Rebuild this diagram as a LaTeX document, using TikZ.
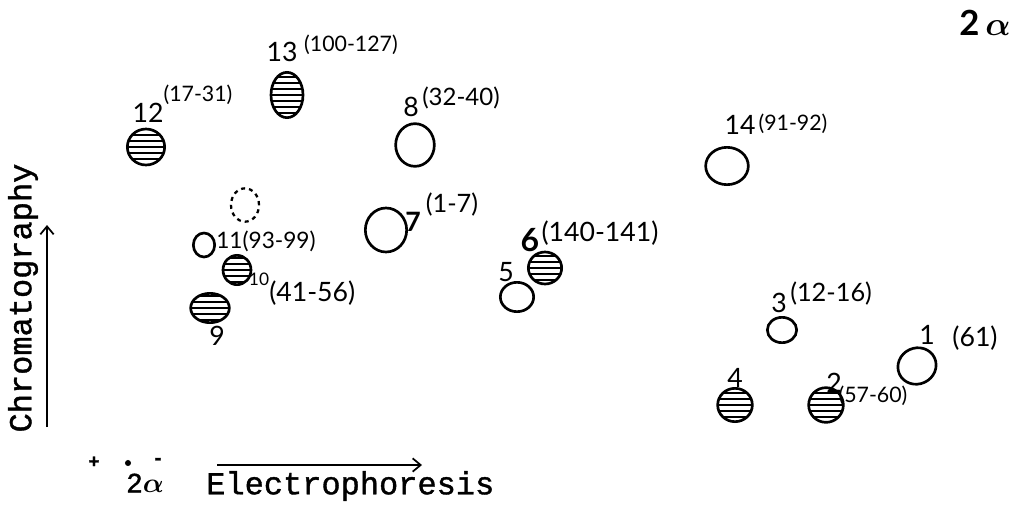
\documentclass[tikz,border=0pt]{standalone}
\usepackage{amsmath,amssymb}
\usepackage{bm}
\usepackage{fontspec}
\newfontfamily\tw{Liberation Mono}[FakeBold=1.2]
\newfontfamily\hand{Lato}
\usetikzlibrary{shapes.geometric,arrows.meta}
\begin{document}
\begin{tikzpicture}[x=0.75pt,y=-0.75pt,
  spot/.style={ellipse,draw,line width=2pt,inner sep=0pt},
  hatchspot/.style={spot,path picture={\foreach \k in {-4,...,4}{\draw[line width=1.6pt] ([yshift=\k*4.4pt]path picture bounding box.west) -- ([yshift=\k*4.4pt]path picture bounding box.east);}}},
  num/.style={font=\hand\fontsize{20}{20}\selectfont,inner sep=0pt},
  rng/.style={font=\hand\fontsize{16}{16}\selectfont,inner sep=0pt},
  axis/.style={font=\tw\fontsize{24}{24}\selectfont,inner sep=0pt},
  axarrow/.style={line width=1.3pt,-{Straight Barb[length=6pt,width=10pt]}}]
\useasboundingbox (0,0) rectangle (1021,508);
% spots
\node[hatchspot,minimum width=28pt,minimum height=27pt] (s12) at (146,147) {};
\node[hatchspot,minimum width=24pt,minimum height=34pt] (s13) at (287,95) {};
\node[spot,minimum width=29pt,minimum height=32pt] (s8) at (415,145) {};
\node[spot,dashed,line width=1.7pt,minimum width=21pt,minimum height=25pt] (sd) at (245,205) {};
\node[spot,minimum width=16pt,minimum height=18pt] (s11) at (204,245) {};
\node[spot,minimum width=31pt,minimum height=33pt] (s7) at (386,230) {};
\node[hatchspot,minimum width=21pt,minimum height=22pt] (s10) at (237,270) {};
\node[hatchspot,minimum width=29pt,minimum height=22pt] (s9) at (210,308) {};
\node[hatchspot,minimum width=25pt,minimum height=24pt] (s6) at (545,268) {};
\node[spot,minimum width=25pt,minimum height=22pt] (s5) at (517,297) {};
\node[spot,minimum width=32pt,minimum height=28pt] (s14) at (727,166) {};
\node[spot,minimum width=22pt,minimum height=19pt] (s3) at (782,330) {};
\node[spot,minimum width=29pt,minimum height=27pt,rotate=25] (s1) at (917,366) {};
\node[hatchspot,minimum width=26pt,minimum height=25pt] (s4) at (735,405) {};
\node[hatchspot,minimum width=26pt,minimum height=26pt] (s2) at (826,405) {};
% labels
\node[num] (l12) at (148,113) {12};
\node[rng] (r12) at (198,95) {(17-31)};
\node[num] (l13) at (282,52) {13};
\node[rng] (r13) at (351,45) {(100-127)};
\node[num] (l8) at (411,107) {8};
\node[rng,font=\hand\fontsize{18}{18}\selectfont,anchor=west] (r8) at (422,98) {(32-40)};
\node[rng,font=\hand\fontsize{17}{17}\selectfont,anchor=west] (l11) at (216,241) {11(93-99)};
\node[num,font=\hand\bfseries\fontsize{20}{20}\selectfont] (l7) at (413,222) {7};
\node[rng,font=\hand\fontsize{19}{19}\selectfont] (r7) at (452,205) {(1-7)};
\node[rng,font=\hand\fontsize{13}{13}\selectfont] (l10) at (259,279) {10};
\node[num,anchor=west] (r10) at (269,293) {(41-56)};
\node[num] (l9) at (217,336) {9};
\node[num,font=\hand\bfseries\fontsize{24}{24}\selectfont] (l6) at (530,240) {6};
\node[num] (r6) at (600,233) {(140-141)};
\node[num] (l5) at (506,272) {5};
\node[num] (l14) at (740,125) {14};
\node[rng] (r14) at (793,124) {(91-92)};
\node[num] (l3) at (779,303) {3};
\node[rng,font=\hand\fontsize{19}{19}\selectfont,anchor=west] (r3) at (790,294) {(12-16)};
\node[num] (l1) at (927,335) {1};
\node[num] (r1) at (975,338) {(61)};
\node[num] (l4) at (735,378) {4};
\node[num] (l2) at (834,383) {2};
\node[rng] (r2) at (873,396) {(57-60)};
\node[num,font=\hand\bfseries\fontsize{26}{26}\selectfont] (alpha) at (985,23) {2\,$\bm{\alpha}$};
% axes
\node[axis,rotate=90] (chrom) at (23,298) {Chromatography};
\coordinate (ca) at (47,427);
\coordinate (cb) at (47,225);
\draw[axarrow] (ca) -- (cb);
\node[axis,anchor=west] (elec) at (206,486) {Electrophoresis};
\coordinate (ea) at (217,465);
\coordinate (eb) at (422,465);
\draw[axarrow] (ea) -- (eb);
\node[axis,font=\tw\fontsize{21}{21}\selectfont] (two) at (145,483) {2$\bm{\alpha}$};
\node[axis,font=\tw\bfseries\fontsize{14}{14}\selectfont] (plus) at (94,462) {+};
\node[circle,fill,inner sep=1.6pt] (dot) at (128,463) {};
\node[axis,font=\tw\bfseries\fontsize{14}{14}\selectfont] (minus) at (158,461) {-};
\end{tikzpicture}
\end{document}
